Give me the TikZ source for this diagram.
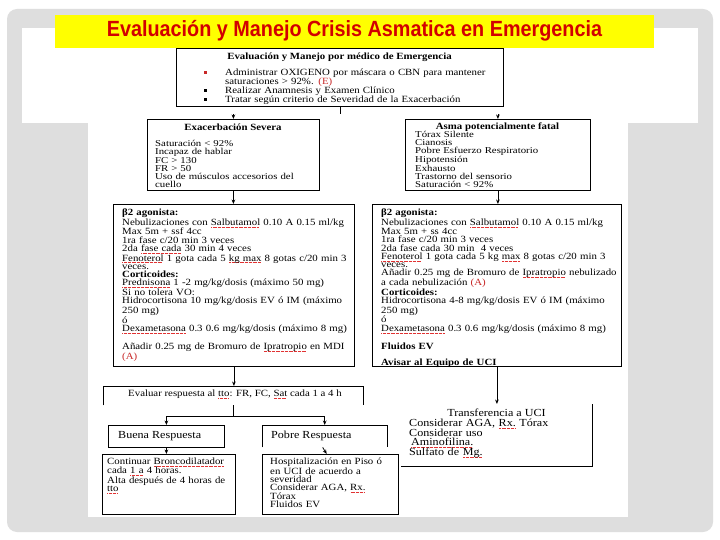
\documentclass[tikz,border=0pt]{standalone}
\usepackage{fontspec}
\usetikzlibrary{arrows.meta}
\setmainfont{Liberation Serif}
\newfontfamily\bodyf[FakeStretch=1.14]{Liberation Serif}
\newfontfamily\smallf[FakeStretch=1.2]{Liberation Serif}
\newfontfamily\bigf[FakeStretch=1.12]{Liberation Serif}
\newfontfamily\titlef[FakeStretch=0.9]{Liberation Sans}
\definecolor{bggray}{RGB}{222,222,222}
\definecolor{titlered}{RGB}{210,0,0}
\definecolor{ttyellow}{RGB}{255,255,0}
\definecolor{refred}{RGB}{200,40,40}
\definecolor{splc}{RGB}{225,50,50}
\newsavebox\splbox
\newcommand\spl[1]{\leavevmode\sbox\splbox{#1}\rlap{\hbox to \wd\splbox{\color{splc}\leaders\hbox to 1.3pt{\hss\rule[-1.9pt]{0.75pt}{0.45pt}\hss}\hfill}}\usebox\splbox}
\lineskiplimit=-20pt
\lineskip=0pt
\begin{document}
\lineskiplimit=-20pt
\lineskip=0pt
\begin{tikzpicture}[x=1pt,y=-1pt,
  box/.style={draw, line width=0.8pt, inner sep=0pt, anchor=north west},
  open/.style={inner sep=0pt, anchor=north west},
  txt/.style={inner sep=0pt, anchor=base west, align=left, text width=270pt,
    font=\bodyf\fontsize{9.5}{8.3}\selectfont},
  txtA/.style={txt, font=\bodyf\fontsize{9.5}{9}\selectfont},
  txtB/.style={txt, font=\smallf\fontsize{9}{7.8}\selectfont},
  txtC/.style={txt, font=\bodyf\fontsize{9.5}{8.1}\selectfont},
  txtD/.style={txt, font=\bigf\fontsize{10.8}{9.6}\selectfont},
  txtE/.style={txt, font=\smallf\fontsize{9}{8}\selectfont},
  ctr/.style={inner sep=0pt, anchor=base, font=\bodyf\fontsize{9.5}{9}\selectfont\bfseries},
  plain/.style={inner sep=0pt, anchor=base, font=\bodyf\fontsize{9.5}{9}\selectfont},
  bigl/.style={inner sep=0pt, anchor=base west, font=\bigf\fontsize{10.8}{10}\selectfont},
  bigc/.style={inner sep=0pt, anchor=base, font=\bigf\fontsize{10.8}{10}\selectfont},
  arr/.style={-{Stealth[length=4.5pt,width=3.6pt]}, line width=0.8pt},
  ln/.style={line width=0.8pt},
  bul/.style={rectangle, inner sep=0pt, minimum width=3pt, minimum height=3pt, fill}
]
\useasboundingbox (0,0) rectangle (720,540);
% background
\fill[white] (0,0) rectangle (720,540);
\fill[bggray, rounded corners=10pt] (7,9) rectangle (713,532);
\fill[white] (22,28) rectangle (698,123);
\fill[white] (88,28) rectangle (628,517);
\node[fill=ttyellow, minimum width=599pt, minimum height=33pt, anchor=north west, inner sep=0pt] (banner) at (55,15) {};
\node[font=\titlef\bfseries\fontsize{22}{26}\selectfont, text=titlered, anchor=base, inner sep=0pt] (title) at (354.5,37) {Evaluación y Manejo Crisis Asmatica en Emergencia};

% boxes
\node[box, minimum width=327pt, minimum height=58pt] (top) at (176,48) {};
\node[box, minimum width=172pt, minimum height=71pt] (sev) at (147,119) {};
\node[box, minimum width=185pt, minimum height=71pt] (asma) at (405,119) {};
\node[box, minimum width=241pt, minimum height=162pt] (lbig) at (113,204) {};
\node[box, minimum width=249pt, minimum height=162pt] (rbig) at (372,204) {};
\node[open, minimum width=260pt, minimum height=19pt] (eval) at (103,386) {};
\node[box, minimum width=116pt, minimum height=22pt] (buena) at (108,425) {};
\node[open, minimum width=125pt, minimum height=22pt] (pobre) at (262,425) {};
\node[box, minimum width=133pt, minimum height=60pt] (cont) at (102,454) {};
\node[box, minimum width=136pt, minimum height=60pt] (hosp) at (262,454) {};
\node[open, minimum width=191pt, minimum height=62pt] (tr) at (401,404) {};

% open box outlines
\draw[ln] (eval.south west) -- (eval.north west) -- (eval.north east) -- (eval.south east);
\draw[ln] (pobre.south west) -- (pobre.north west) -- (pobre.north east) -- (pobre.south east);
\draw[ln] (tr.north east) -- (tr.south east) -- (tr.south west);

% connectors
\coordinate (stub) at ([yshift=-7pt]top.south);
\draw[ln] (top.south) -- (stub);
\coordinate (sa) at (sev.north |- stub);
\coordinate (aa) at (asma.north |- stub);
\draw[arr] (sa) -- (sev.north);
\draw[arr] (aa) -- (asma.north);
\draw[arr] (sev.south) -- (sev.south |- lbig.north);
\draw[arr] (asma.south) -- (asma.south |- rbig.north);
\draw[arr] (lbig.south) -- (lbig.south |- eval.north);
\draw[arr] (rbig.south) -- (rbig.south |- tr.north);
\coordinate (fork) at ([yshift=-11pt]eval.south);
\draw[ln] (eval.south) -- (fork);
\draw[ln] (buena.north |- fork) -- (pobre.north |- fork);
\draw[arr] (buena.north |- fork) -- (buena.north);
\draw[arr] (pobre.north |- fork) -- (pobre.north);
\draw[arr] (buena.south) -- (buena.south |- cont.north);
\coordinate (pq) at ([xshift=-2pt]pobre.south);
\coordinate (pr) at ([xshift=2pt]pobre.south |- hosp.north);
\draw[arr] (pq) -- (pr);

% top box text
\node[ctr] (toptitle) at (339.5,59.5) {Evaluación y Manejo por médico de Emergencia};
\node[bul, fill=refred] (b1) at (205,72.5) {};
\node[bul] (b2) at (205,90.5) {};
\node[bul] (b3) at (205,99.5) {};
\node[txtA] (toptxt) at (225,75.5) {Administrar OXIGENO por máscara o CBN para mantener\\
saturaciones > 92\%. \textcolor{refred}{(E)}\\
Realizar Anamnesis y Examen Clínico\\
Tratar según criterio de Severidad de la Exacerbación};

% severe
\node[ctr] (sevt) at (233,130.5) {Exacerbación Severa};
\node[txtB] (sevx) at (155,147) {Saturación < 92\%\\
Incapaz de hablar\\
FC > 130\\
FR > 50\\
Uso de músculos accesorios del\\
cuello};

% fatal
\node[ctr] (asmat) at (497.5,129.5) {Asma potencialmente fatal};
\node[txtE] (asmax) at (415,137.5) {Tórax Silente\\
Cianosis\\
Pobre Esfuerzo Respiratorio\\
Hipotensión\\
Exhausto\\
Trastorno del sensorio\\
Saturación < 92\%};

% left big
\node[txt] (lbigx) at (122,215.5) {\textbf{β2 agonista:}\\
Nebulizaciones con \spl{Salbutamol} 0.10 A 0.15 ml/kg\\
Max 5m + ssf 4cc\\
1ra fase c/20 min 3 veces\\
2da \spl{fase cada} 30 min 4 veces\\
\spl{Fenoterol} 1 gota cada 5 \spl{kg max} 8 gotas c/20 min 3\\
veces.\\
\textbf{Corticoides:}\\
\spl{Prednisona} 1 -2 mg/kg/dosis (máximo 50 mg)\\
Si no tolera VO:\\
Hidrocortisona 10 mg/kg/dosis EV ó IM (máximo\\
250 mg)\\
ó\\
\spl{Dexametasona} 0.3 0.6 mg/kg/dosis (máximo 8 mg)\\[8.3pt]
Añadir 0.25 mg de Bromuro de \spl{Ipratropio} en MDI\\
\textcolor{refred}{(A)}};

% right big
\node[txt] (rbigx) at (381,215.5) {\textbf{β2 agonista:}\\
Nebulizaciones con \spl{Salbutamol} 0.10 A 0.15 ml/kg\\
Max 5m + ss 4cc\\
1ra fase c/20 min 3 veces\\
2da fase cada 30 min \ 4 veces\\
\spl{Fenoterol} 1 gota cada 5 kg \spl{max} 8 gotas c/20 min 3\\
veces.\\
Añadir 0.25 mg de Bromuro de \spl{Ipratropio} nebulizado\\
a cada nebulización \textcolor{refred}{(A)}\\
\textbf{Corticoides:}\\
Hidrocortisona 4-8 mg/kg/dosis EV ó IM (máximo\\
250 mg)\\
ó\\
\spl{Dexametasona} 0.3 0.6 mg/kg/dosis (máximo 8 mg)\\[8.3pt]
\textbf{Fluidos EV}\\[8.3pt]
\textbf{Avisar al Equipo de UCI}};

% evaluation
\node[plain] (evalt) at (235,396.5) {Evaluar respuesta al \spl{tto}: FR, FC, \spl{Sat} cada 1 a 4 h};
\node[bigl] (buenat) at (118,438) {Buena Respuesta};
\node[bigl] (pobret) at (271,438) {Pobre Respuesta};

\node[txtC] (contx) at (107,464.5) {Continuar \spl{Broncodilatador}\\
cada \spl{1 a} 4 horas.\\
Alta después de 4 horas de\\
\spl{tto}};
\node[txtC] (hospx) at (270,464.5) {Hospitalización en Piso ó\\
en UCI de acuerdo a\\
severidad\\
Considerar AGA, \spl{Rx.}\\
Tórax\\
Fluidos EV};

% transfer
\node[bigc] (trt) at (496.5,416.5) {Transferencia a UCI};
\node[txtD] (trx) at (409,426.5) {Considerar AGA, \spl{Rx.} Tórax\\
Considerar uso\\
\hspace{2pt}\spl{Aminofilina.}\\
Sulfato de \spl{Mg.}};
\end{tikzpicture}
\end{document}
